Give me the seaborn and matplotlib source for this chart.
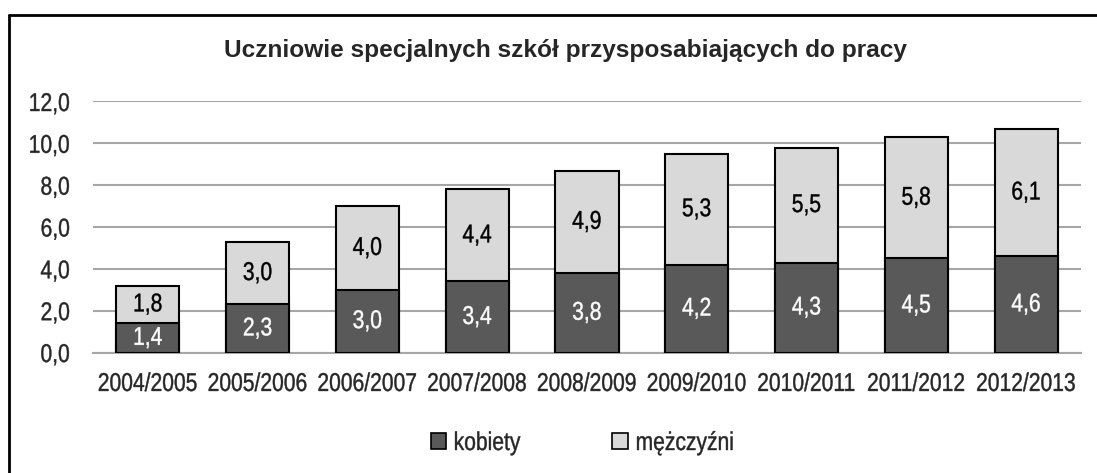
import matplotlib
matplotlib.use("Agg")
import matplotlib.pyplot as plt
from matplotlib.patches import Patch
from matplotlib.patheffects import AbstractPathEffect
from matplotlib.transforms import Affine2D
from matplotlib import font_manager
import seaborn as sns
import pandas as pd

years = ["2004/2005", "2005/2006", "2006/2007", "2007/2008", "2008/2009",
         "2009/2010", "2010/2011", "2011/2012", "2012/2013"]
kobiety = [1.4, 2.3, 3.0, 3.4, 3.8, 4.2, 4.3, 4.5, 4.6]
mezczyzni = [1.8, 3.0, 4.0, 4.4, 4.9, 5.3, 5.5, 5.8, 6.1]
yticks = [0, 2, 4, 6, 8, 10, 12]

sns.set_theme(style="white")
names = {f.name for f in font_manager.fontManager.ttflist}
HAS_NARROW = "Liberation Sans Narrow" in names
family = "Liberation Sans Narrow" if HAS_NARROW else "Liberation Sans"
plt.rcParams["font.family"] = [family, "DejaVu Sans"]


class Condensed(AbstractPathEffect):
    """Draw text horizontally condensed (and slightly heavier), keeping its alignment."""

    def __init__(self, sx=0.82, ha="center", weight=0.3):
        super().__init__()
        self.sx = sx
        self.weight = weight
        self.frac = {"left": 0.0, "center": 0.5, "right": 1.0}[ha]

    def draw_path(self, renderer, gc, tpath, affine, rgbFace=None):
        ext = tpath.get_extents()
        shift = self.frac * (1 - self.sx) * ext.x1
        t = Affine2D().scale(self.sx, 1).translate(shift, 0) + affine
        gc0 = renderer.new_gc()
        gc0.copy_properties(gc)
        if rgbFace is not None:
            gc0.set_foreground(rgbFace)
            gc0.set_linewidth(self.weight)
        renderer.draw_path(gc0, tpath, t, rgbFace)
        gc0.restore()


def narrow(ha="center"):
    return [] if HAS_NARROW else [Condensed(0.82, ha)]


df = pd.DataFrame({"rok": years, "kobiety": kobiety, "mezczyzni": mezczyzni})
df["razem"] = df["kobiety"] + df["mezczyzni"]

DARK = "#595959"
LIGHT = "#d9d9d9"
GRID = "#a6a6a6"

fig = plt.figure(figsize=(10.97, 4.73), dpi=100)
ax = fig.add_axes([93 / 1097, 1 - 352.5 / 473, (1081 - 93) / 1097, (352.5 - 101.5) / 473])

bw = 0.575
sns.barplot(data=df, x="rok", y="razem", color=LIGHT, saturation=1, width=bw,
            edgecolor="black", linewidth=1.5, ax=ax, zorder=3)
sns.barplot(data=df, x="rok", y="kobiety", color=DARK, saturation=1, width=bw,
            edgecolor="black", linewidth=1.5, ax=ax, zorder=4)

fs = 18.5
for i, (k, m) in enumerate(zip(kobiety, mezczyzni)):
    ax.text(i, k / 2, f"{k:.1f}".replace(".", ","), ha="center", va="center",
            color="white", fontsize=fs, zorder=5, path_effects=narrow("center"))
    ax.text(i, k + m / 2, f"{m:.1f}".replace(".", ","), ha="center", va="center",
            color="black", fontsize=fs, zorder=5, path_effects=narrow("center"))

ax.set_ylim(0, 12)
ax.set_xlim(-0.5, len(years) - 0.5)
ax.set_yticks(yticks)
ax.set_yticklabels([f"{v:.1f}".replace(".", ",") for v in yticks], fontsize=fs)
ax.set_xticks(range(len(years)))
ax.set_xticklabels(years, fontsize=fs)
ax.tick_params(axis="x", length=0, pad=14)
ax.tick_params(axis="y", length=0, pad=16.5)
for lbl in ax.get_yticklabels():
    lbl.set_horizontalalignment("right")
    lbl.set_path_effects(narrow("right"))
for lbl in ax.get_xticklabels():
    lbl.set_path_effects(narrow("center"))
ax.set_xlabel("")
ax.set_ylabel("")
ax.yaxis.grid(True, color=GRID, linewidth=1.5, zorder=0)
ax.set_axisbelow(True)
for s in ["left", "right", "top"]:
    ax.spines[s].set_visible(False)
ax.spines["bottom"].set_color(GRID)
ax.spines["bottom"].set_linewidth(1.5)

fig.text(565 / 1097, 1 - 50 / 473, "Uczniowie specjalnych szkół przysposabiających do pracy",
         ha="center", va="center", fontsize=17.6, fontweight="bold",
         family=["Liberation Sans", "DejaVu Sans"])

handles = [Patch(facecolor=DARK, edgecolor="black", linewidth=1.2, label="kobiety"),
           Patch(facecolor=LIGHT, edgecolor="black", linewidth=1.2, label="mężczyźni")]
leg = fig.legend(handles=handles, loc="center", bbox_to_anchor=(593 / 1097, 1 - 443 / 473),
                 ncol=2, frameon=False, fontsize=fs, handlelength=0.6, handleheight=0.6,
                 handletextpad=0.3, columnspacing=3.0)
for t in leg.get_texts():
    t.set_path_effects(narrow("left"))

# outer frame of the chart area
fig.add_artist(plt.Line2D([9 / 1097, 9 / 1097], [0, 1 - 15 / 473], color="black",
                          linewidth=2, transform=fig.transFigure))
fig.add_artist(plt.Line2D([9 / 1097, 1], [1 - 15 / 473, 1 - 15 / 473], color="black",
                          linewidth=2, transform=fig.transFigure))

fig.savefig("out.png", dpi=100)
